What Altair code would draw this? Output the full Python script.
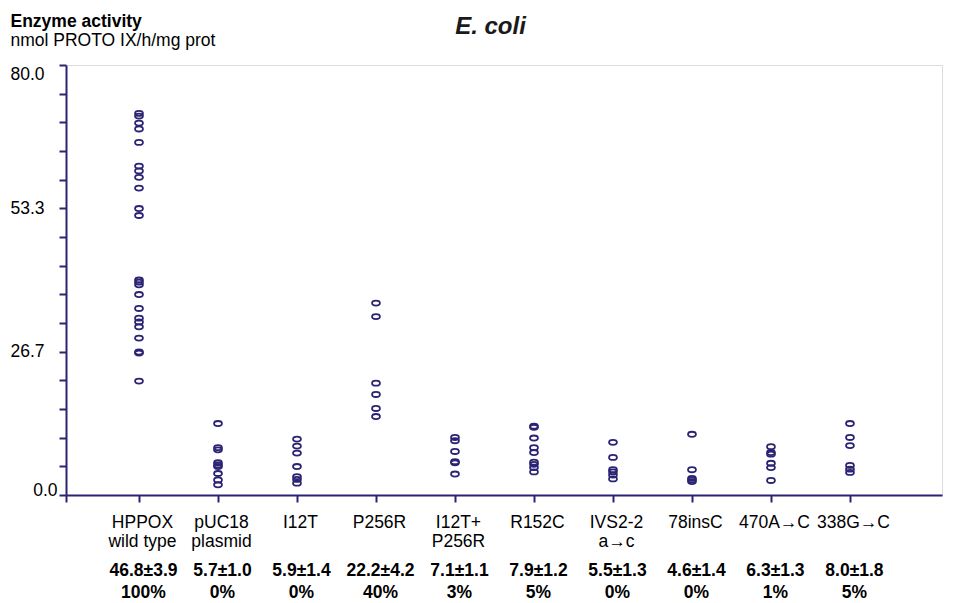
import json
import altair as alt
import pandas as pd

# ---- data ----
categories = ["HPPOX|wild type", "pUC18|plasmid", "I12T", "P256R", "I12T+|P256R",
              "R152C", "IVS2-2|a→c", "78insC", "470A→C", "338G→C"]
stats = ["46.8±3.9", "5.7±1.0", "5.9±1.4", "22.2±4.2", "7.1±1.1",
         "7.9±1.2", "5.5±1.3", "4.6±1.4", "6.3±1.3", "8.0±1.8"]
percent = ["100%", "0%", "0%", "40%", "3%", "5%", "0%", "0%", "1%", "5%"]

hppox = [71.0, 70.5, 69.2, 68.1, 65.6, 61.2, 60.3, 59.1, 57.1, 53.3, 52.0,
         40.0, 39.6, 39.1, 37.3, 34.7, 32.9, 32.2, 31.3, 29.2, 26.6, 26.4, 21.2]
puc18 = [13.3, 8.8, 8.4, 6.0, 5.6, 5.3, 4.0, 2.8, 1.9]
i12t = [10.4, 9.1, 7.8, 5.3, 3.4, 2.9, 2.2]
p256r = [35.7, 33.2, 20.8, 18.7, 16.1, 14.6]
i12t_p256r = [10.7, 10.1, 8.1, 6.2, 6.0, 3.9]
r152c = [12.8, 12.6, 10.6, 8.8, 7.9, 6.1, 5.7, 5.1, 4.3]
ivs2 = [9.8, 7.0, 4.7, 4.3, 3.7, 3.0]
ins78 = [11.3, 4.7, 3.1, 2.8, 2.5]
a470c = [9.0, 7.9, 7.6, 5.9, 5.1, 2.7]
g338c = [13.3, 10.7, 9.2, 5.5, 4.8, 4.2]

series = [hppox, puc18, i12t, p256r, i12t_p256r, r152c, ivs2, ins78, a470c, g338c]

rows = []
for i, vals in enumerate(series):
    for v in vals:
        rows.append({"idx": i + 1, "value": v})
df = pd.DataFrame(rows)

# ---- style ----
NAVY = "#2b2474"
FONT = "Liberation Sans"
FS = 17.5
ELLIPSE = "M-1,0A1,0.64 0 1,1 1,0A1,0.64 0 1,1 -1,0Z"

x_dom = [0.076, 11.165]
xscale = alt.Scale(domain=x_dom, nice=False, zero=False)
yscale = alt.Scale(domain=[0, 80], nice=False)
ytick_vals = [i * 80 / 15 for i in range(16)]

names_js = json.dumps(categories, ensure_ascii=False)
stats_js = json.dumps([s + "|" + p for s, p in zip(stats, percent)], ensure_ascii=False)

points = alt.Chart(df).mark_point(
    shape=ELLIPSE, size=62, filled=False, strokeWidth=1.8, color=NAVY, opacity=1
).encode(
    x=alt.X("idx:Q", scale=xscale, axis=alt.Axis(
        values=[x_dom[0]] + list(range(1, 11)),
        labelExpr=f"datum.value < 0.5 ? '' : split({names_js}[round(datum.value) - 1], '|')",
        grid=False, domainColor=NAVY, domainWidth=2, tickColor=NAVY, tickWidth=2, tickSize=7,
        labelFont=FONT, labelFontSize=FS, labelColor="black", labelPadding=11,
        labelLineHeight=19, labelOffset=3, labelFlush=False, labelOverlap=False, labelBound=False,
        title="E. coli", titleX=424, titleY=-462, titleAlign="center", titleBaseline="alphabetic",
        titleFont=FONT, titleFontSize=24, titleFontStyle="italic", titleFontWeight="bold",
        titleColor="#1a1a1a",
    )),
    y=alt.Y("value:Q", scale=yscale, axis=alt.Axis(
        values=ytick_vals,
        labelExpr="round(datum.value * 15 / 80) % 5 == 0 ? format(datum.value, '.1f') : ''",
        grid=False, domainColor=NAVY, domainWidth=2, tickColor=NAVY, tickWidth=2,
        tickSize=7, labelFont=FONT, labelFontSize=FS, labelColor="black", labelFlush=True,
        labelOverlap=False,
        labelPadding={"condition": {"test": "datum.value < 1", "value": 2}, "value": 15},
        labelOffset={"condition": {"test": "datum.value < 1", "value": 4}, "value": 0},
        title="nmol PROTO IX/h/mg prot", titleAngle=0, titleX=-56, titleY=-20,
        titleAlign="left", titleBaseline="alphabetic", titleFont=FONT, titleFontSize=FS,
        titleFontWeight="normal", titleColor="black",
    )),
)

stats_layer = alt.Chart(df).mark_point(opacity=0).encode(
    x=alt.X("idx:Q", scale=xscale, axis=alt.Axis(
        orient="bottom", values=list(range(1, 11)),
        labelExpr=f"split({stats_js}[round(datum.value) - 1], '|')",
        grid=False, domain=False, ticks=False,
        labelFont=FONT, labelFontSize=FS, labelFontWeight="bold", labelColor="black",
        labelPadding=66, labelLineHeight=22, labelOffset=4, labelFlush=False,
        labelOverlap=False, labelBound=False,
        title="Enzyme activity", titleX=-56, titleY=-469, titleAlign="left",
        titleBaseline="alphabetic", titleFont=FONT, titleFontSize=FS, titleFontWeight="bold",
        titleColor="black",
    )),
)

chart = alt.layer(points, stats_layer).resolve_scale(x="independent").properties(
    width=876, height=430,
    autosize=alt.AutoSizeParams(type="none"),
    padding={"left": 58, "top": 57, "right": 7, "bottom": 106},
).configure_view(stroke=None).configure(background="white")

chart.save("out.html", embed_options={"renderer": "svg", "actions": False})
